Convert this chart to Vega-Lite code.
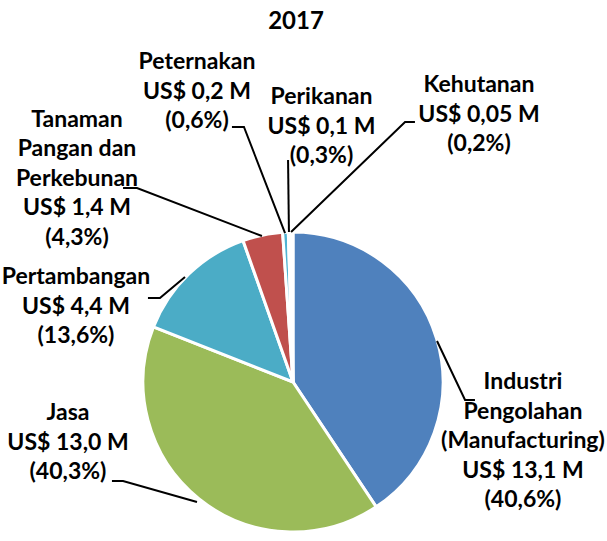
{
  "$schema": "https://vega.github.io/schema/vega-lite/v6.json",
  "width": 607,
  "height": 541,
  "autosize": {"type": "fit", "contains": "padding"},
  "padding": 0,
  "background": "white",
  "config": {"view": {"stroke": null}},
  "datasets": {
    "sektor": [
      {"sektor": "Industri Pengolahan (Manufacturing)", "nilai": 13.1, "pct": 40.6, "o": 1, "cx": 0, "cy": 0},
      {"sektor": "Jasa", "nilai": 13.0, "pct": 40.3, "o": 2, "cx": 0, "cy": 0},
      {"sektor": "Pertambangan", "nilai": 4.4, "pct": 13.6, "o": 3, "cx": 0, "cy": 0},
      {"sektor": "Tanaman Pangan dan Perkebunan", "nilai": 1.4, "pct": 4.3, "o": 4, "cx": 0, "cy": 0},
      {"sektor": "Peternakan", "nilai": 0.2, "pct": 0.6, "o": 5, "cx": 0, "cy": 0},
      {"sektor": "Perikanan", "nilai": 0.1, "pct": 0.3, "o": 6, "cx": 0, "cy": 0},
      {"sektor": "Kehutanan", "nilai": 0.05, "pct": 0.2, "o": 7, "cx": 0, "cy": 0}
    ],
    "title": [
      {"t": "2017", "lx": 0.02, "ly": 2.4}
    ],
    "labels": [
      {"t": "Peternakan\nUS$ 0,2 M\n(0,6%)", "lx": -0.64, "ly": 2.133},
      {"t": "Perikanan\nUS$ 0,1 M\n(0,3%)", "lx": 0.19, "ly": 1.9},
      {"t": "Kehutanan\nUS$ 0,05 M\n(0,2%)", "lx": 1.24, "ly": 1.98},
      {"t": "Tanaman\nPangan dan\nPerkebunan\nUS$ 1,4 M\n(4,3%)", "lx": -1.44, "ly": 1.747},
      {"t": "Pertambangan\nUS$ 4,4 M\n(13,6%)", "lx": -1.447, "ly": 0.7},
      {"t": "Jasa\nUS$ 13,0 M\n(40,3%)", "lx": -1.5, "ly": -0.207},
      {"t": "Industri\nPengolahan\n(Manufacturing)\nUS$ 13,1 M\n(40,6%)", "lx": 1.533, "ly": 0.0}
    ],
    "leaders": [
      {"id": "Peternakan", "s": 1, "px": -0.407, "py": 1.70},
      {"id": "Peternakan", "s": 2, "px": -0.327, "py": 1.70},
      {"id": "Peternakan", "s": 3, "px": -0.053, "py": 0.993},
      {"id": "Perikanan", "s": 1, "px": -0.033, "py": 1.48},
      {"id": "Perikanan", "s": 2, "px": -0.027, "py": 1.0},
      {"id": "Kehutanan", "s": 1, "px": 0.813, "py": 1.733},
      {"id": "Kehutanan", "s": 2, "px": 0.747, "py": 1.733},
      {"id": "Kehutanan", "s": 3, "px": -0.013, "py": 1.0},
      {"id": "Tanaman", "s": 1, "px": -1.133, "py": 1.293},
      {"id": "Tanaman", "s": 2, "px": -1.04, "py": 1.293},
      {"id": "Tanaman", "s": 3, "px": -0.207, "py": 0.973},
      {"id": "Pertambangan", "s": 1, "px": -0.967, "py": 0.56},
      {"id": "Pertambangan", "s": 2, "px": -0.887, "py": 0.56},
      {"id": "Pertambangan", "s": 3, "px": -0.72, "py": 0.70},
      {"id": "Jasa", "s": 1, "px": -1.207, "py": -0.66},
      {"id": "Jasa", "s": 2, "px": -1.133, "py": -0.66},
      {"id": "Jasa", "s": 3, "px": -0.64, "py": -0.80},
      {"id": "Industri", "s": 1, "px": 0.96, "py": 0.273},
      {"id": "Industri", "s": 2, "px": 1.147, "py": -0.12},
      {"id": "Industri", "s": 3, "px": 1.213, "py": -0.12}
    ]
  },
  "layer": [
    {
      "data": {"name": "sektor"},
      "mark": {"type": "arc", "outerRadius": 150, "stroke": "white", "strokeWidth": 3},
      "encoding": {
        "x": {"field": "cx", "type": "quantitative", "scale": {"domain": [-1.9533, 2.0933], "nice": false, "zero": false}, "axis": null},
        "y": {"field": "cy", "type": "quantitative", "scale": {"domain": [-1.06, 2.5467], "nice": false, "zero": false}, "axis": null},
        "theta": {"field": "pct", "type": "quantitative", "stack": true},
        "order": {"field": "o", "type": "quantitative"},
        "color": {
          "field": "sektor",
          "type": "nominal",
          "scale": {
            "domain": ["Industri Pengolahan (Manufacturing)", "Jasa", "Pertambangan", "Tanaman Pangan dan Perkebunan", "Peternakan", "Perikanan", "Kehutanan"],
            "range": ["#4F81BD", "#9BBB59", "#4BACC6", "#C0504D", "#4FB3D3", "#8064A2", "#F79646"]
          },
          "legend": null
        }
      }
    },
    {
      "data": {"name": "leaders"},
      "mark": {"type": "line", "color": "black", "strokeWidth": 2},
      "encoding": {
        "x": {"field": "px", "type": "quantitative", "scale": {"domain": [-1.9533, 2.0933], "nice": false, "zero": false}, "axis": null},
        "y": {"field": "py", "type": "quantitative", "scale": {"domain": [-1.06, 2.5467], "nice": false, "zero": false}, "axis": null},
        "detail": {"field": "id", "type": "nominal"},
        "order": {"field": "s", "type": "quantitative"}
      }
    },
    {
      "data": {"name": "title"},
      "mark": {"type": "text", "align": "center", "baseline": "middle", "font": "Lato", "fontWeight": "bold", "fontSize": 24, "color": "black"},
      "encoding": {
        "x": {"field": "lx", "type": "quantitative", "scale": {"domain": [-1.9533, 2.0933], "nice": false, "zero": false}, "axis": null},
        "y": {"field": "ly", "type": "quantitative", "scale": {"domain": [-1.06, 2.5467], "nice": false, "zero": false}, "axis": null},
        "text": {"field": "t", "type": "nominal"}
      }
    },
    {
      "data": {"name": "labels"},
      "mark": {"type": "text", "align": "center", "baseline": "middle", "lineBreak": "\n", "lineHeight": 29.5, "font": "Lato", "fontWeight": "bold", "fontSize": 23, "color": "black"},
      "encoding": {
        "x": {"field": "lx", "type": "quantitative", "scale": {"domain": [-1.9533, 2.0933], "nice": false, "zero": false}, "axis": null},
        "y": {"field": "ly", "type": "quantitative", "scale": {"domain": [-1.06, 2.5467], "nice": false, "zero": false}, "axis": null},
        "text": {"field": "t", "type": "nominal"}
      }
    }
  ]
}
